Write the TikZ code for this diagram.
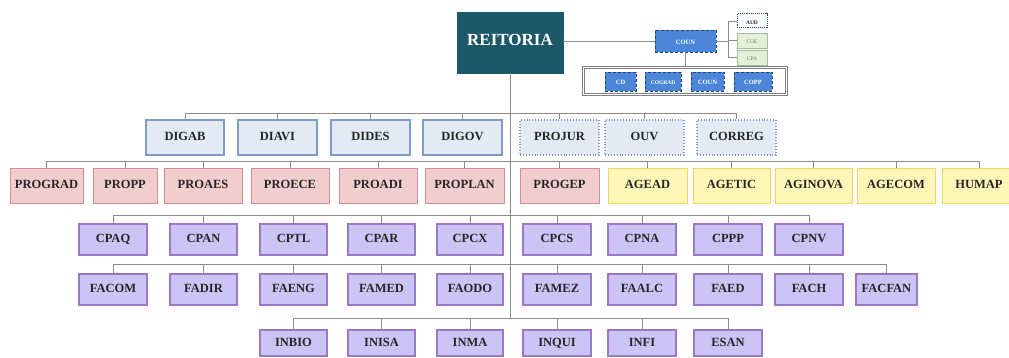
\documentclass[tikz,border=0pt]{standalone}
\usepackage{fontspec}
\setmainfont{Liberation Serif}
\definecolor{teal1}{HTML}{1D5868}
\definecolor{lnc}{HTML}{8C8C8C}
\definecolor{lbfill}{HTML}{E3EAF4}
\definecolor{lbdraw}{HTML}{7F9CC8}
\definecolor{pkfill}{HTML}{F2CDCD}
\definecolor{pkdraw}{HTML}{D38E8E}
\definecolor{ylfill}{HTML}{FFF6B8}
\definecolor{yldraw}{HTML}{EFD565}
\definecolor{lvfill}{HTML}{CBC4F5}
\definecolor{lvdraw}{HTML}{9A7AC6}
\definecolor{bluef}{HTML}{4C86D8}
\definecolor{blued}{HTML}{23467E}
\definecolor{grfill}{HTML}{E4EFD8}
\definecolor{grdraw}{HTML}{A8B898}
\definecolor{txt}{HTML}{262626}
\tikzset{
  base/.style={rectangle, inner sep=0pt, font=\bfseries\fontsize{12.5}{14}\selectfont, text=txt, line width=0.9pt, text height=0.66em, text depth=0pt},
  topbox/.style={base, fill=teal1, draw=teal1, text=white, font=\bfseries\fontsize{17}{19}\selectfont},
  dirbox/.style={base, fill=lbfill, draw=lbdraw, line width=1.1pt},
  dotbox/.style={base, fill=lbfill, draw=lbdraw, dotted, line width=1.1pt},
  probox/.style={base, fill=pkfill, draw=pkdraw},
  agbox/.style={base, fill=ylfill, draw=yldraw},
  unbox/.style={base, fill=lvfill, draw=lvdraw, line width=1.1pt},
  bluebox/.style={base, fill=bluef, draw=blued, densely dashed, text=white, font=\bfseries\fontsize{6.5}{7}\selectfont},
  smallgreen/.style={base, fill=grfill, draw=grdraw, line width=0.6pt, font=\fontsize{5.5}{6}\selectfont, text=gray},
  smallaud/.style={base, fill=white, draw=blued, densely dotted, line width=1pt, font=\bfseries\fontsize{5.5}{6}\selectfont},
  holder/.style={rectangle, inner sep=0pt, draw=gray, fill=white, line width=1pt, double=white, double distance=1pt},
  conn/.style={draw=lnc, line width=0.8pt}
}
\newcommand\obox[7]{\node[#1, minimum width={(#5-#3)*1pt}, minimum height={(#6-#4)*1pt}] (#2) at ({(#3+#5)/2},{(#4+#6)/2}) {#7};}
\begin{document}
\begin{tikzpicture}[x=1pt,y=-1pt]
\useasboundingbox (0,0) rectangle (1009,358);
% top
\obox{topbox}{reit}{457}{12}{563}{73}{REITORIA}
\obox{holder}{cont}{583}{68}{786}{95}{}
\obox{bluebox}{coun}{655}{30}{716}{52}{COUN}
\obox{bluebox}{cd}{605}{72}{636}{91}{CD}
\obox{bluebox}{cograd}{645}{72}{681}{91}{\fontsize{5.5}{6}\selectfont COGRAD}
\obox{bluebox}{coun2}{691}{72}{724}{91}{COUN}
\obox{bluebox}{copp}{734}{72}{772}{91}{COPP}
\obox{smallaud}{aud}{737}{14}{767}{28}{AUD}
\obox{smallgreen}{coe}{737}{33}{767}{48}{COE}
\obox{smallgreen}{cpa}{737}{50}{767}{65}{CPA}
\coordinate (brk) at (728,41);
\draw[conn] (reit.east |- coun.west) -- (coun.west);
\draw[conn] (coun.east) -- (brk);
\draw[conn] (brk |- aud.west) -- (brk |- cpa.west);
\draw[conn] (brk |- aud.west) -- (aud.west);
\draw[conn] (brk |- coe.west) -- (coe.west);
\draw[conn] (brk |- cpa.west) -- (cpa.west);
\draw[conn] (coun.south) -- (coun.south |- cont.north);
% level 2
\obox{dirbox}{digab}{146}{120}{224}{155}{DIGAB}
\obox{dirbox}{diavi}{238}{120}{317}{155}{DIAVI}
\obox{dirbox}{dides}{331}{120}{410}{155}{DIDES}
\obox{dirbox}{digov}{423}{120}{502}{155}{DIGOV}
\obox{dotbox}{projur}{520}{120}{599}{155}{PROJUR}
\obox{dotbox}{ouv}{605}{120}{684}{155}{OUV}
\obox{dotbox}{correg}{697}{120}{776}{155}{CORREG}
% level 3
\obox{probox}{prograd}{10}{168}{83}{203}{PROGRAD}
\obox{probox}{propp}{93}{168}{157}{203}{PROPP}
\obox{probox}{proaes}{164}{168}{242}{203}{PROAES}
\obox{probox}{proece}{251}{168}{329}{203}{PROECE}
\obox{probox}{proadi}{339}{168}{417}{203}{PROADI}
\obox{probox}{proplan}{425}{168}{504}{203}{PROPLAN}
\obox{probox}{progep}{520}{168}{599}{203}{PROGEP}
\obox{agbox}{agead}{608}{168}{687}{203}{AGEAD}
\obox{agbox}{agetic}{693}{168}{770}{203}{AGETIC}
\obox{agbox}{aginova}{775}{168}{852}{203}{AGINOVA}
\obox{agbox}{agecom}{857}{168}{935}{203}{AGECOM}
\obox{agbox}{humap}{942}{168}{1016}{203}{HUMAP}
% level 4
\obox{unbox}{cpaq}{79}{224}{147}{255}{CPAQ}
\obox{unbox}{cpan}{170}{224}{237}{255}{CPAN}
\obox{unbox}{cptl}{260}{224}{327}{255}{CPTL}
\obox{unbox}{cpar}{348}{224}{415}{255}{CPAR}
\obox{unbox}{cpcx}{437}{224}{503}{255}{CPCX}
\obox{unbox}{cpcs}{523}{224}{591}{255}{CPCS}
\obox{unbox}{cpna}{608}{224}{676}{255}{CPNA}
\obox{unbox}{cppp}{694}{224}{762}{255}{CPPP}
\obox{unbox}{cpnv}{775}{224}{843}{255}{CPNV}
% level 5
\obox{unbox}{facom}{79}{274}{147}{305}{FACOM}
\obox{unbox}{fadir}{170}{274}{237}{305}{FADIR}
\obox{unbox}{faeng}{260}{274}{327}{305}{FAENG}
\obox{unbox}{famed}{348}{274}{415}{305}{FAMED}
\obox{unbox}{faodo}{437}{274}{503}{305}{FAODO}
\obox{unbox}{famez}{523}{274}{591}{305}{FAMEZ}
\obox{unbox}{faalc}{608}{274}{676}{305}{FAALC}
\obox{unbox}{faed}{694}{274}{762}{305}{FAED}
\obox{unbox}{fach}{775}{274}{843}{305}{FACH}
\obox{unbox}{facfan}{856}{274}{917}{305}{FACFAN}
% level 6
\obox{unbox}{inbio}{260}{330}{327}{356}{INBIO}
\obox{unbox}{inisa}{348}{330}{415}{356}{INISA}
\obox{unbox}{inma}{437}{330}{503}{356}{INMA}
\obox{unbox}{inqui}{523}{330}{591}{356}{INQUI}
\obox{unbox}{infi}{608}{330}{676}{356}{INFI}
\obox{unbox}{esan}{694}{330}{762}{356}{ESAN}
% trunk
\coordinate (tend) at (511,318);
\draw[conn] (reit.south) -- (reit.south |- tend);
% bars
\coordinate (b2) at (0,113);
\coordinate (b3) at (0,161);
\coordinate (b4) at (0,215);
\coordinate (b5) at (0,264);
\coordinate (b6) at (0,318);
\draw[conn] (digab.north |- b2) -- (correg.north |- b2);
\foreach \n in {digab,diavi,dides,digov,projur,ouv,correg}{\draw[conn] (\n.north) -- (\n.north |- b2);}
\draw[conn] (prograd.north |- b3) -- (humap.north |- b3);
\foreach \n in {prograd,propp,proaes,proece,proadi,proplan,progep,agead,agetic,aginova,agecom,humap}{\draw[conn] (\n.north) -- (\n.north |- b3);}
\draw[conn] (cpaq.north |- b4) -- (cpnv.north |- b4);
\foreach \n in {cpaq,cpan,cptl,cpar,cpcx,cpcs,cpna,cppp,cpnv}{\draw[conn] (\n.north) -- (\n.north |- b4);}
\draw[conn] (facom.north |- b5) -- (facfan.north |- b5);
\foreach \n in {facom,fadir,faeng,famed,faodo,famez,faalc,faed,fach,facfan}{\draw[conn] (\n.north) -- (\n.north |- b5);}
\draw[conn] (inbio.north |- b6) -- (esan.north |- b6);
\foreach \n in {inbio,inisa,inma,inqui,infi,esan}{\draw[conn] (\n.north) -- (\n.north |- b6);}
\end{tikzpicture}
\end{document}
